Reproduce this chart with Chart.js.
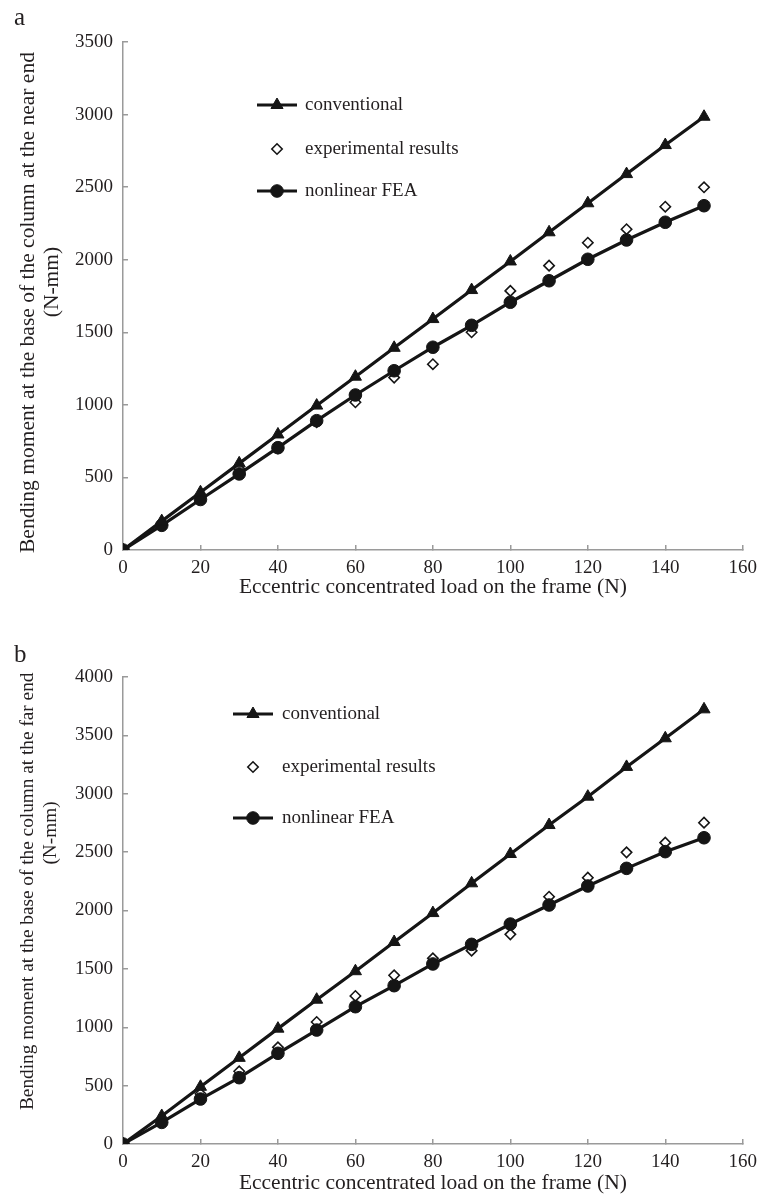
<!DOCTYPE html>
<html><head><meta charset="utf-8">
<script src="https://cdn.jsdelivr.net/npm/chart.js@4/dist/chart.umd.min.js"></script>
<style>
html,body{margin:0;padding:0;background:#fff;}
#wrap{position:relative;width:769px;height:1197px;overflow:hidden;}
.box{position:absolute;left:0;width:769px;}
canvas{display:block;}
</style></head><body>
<div id="wrap">
<div class="box" style="top:0;height:600px"><canvas id="ca" width="769" height="600"></canvas></div>
<div class="box" style="top:600px;height:597px"><canvas id="cb" width="769" height="597"></canvas></div>
</div>
<script>
// ---- data ----
const loads = [0,10,20,30,40,50,60,70,80,90,100,110,120,130,140,150];
const xTicks = [0,20,40,60,80,100,120,140,160];
const yTicksA = [0,500,1000,1500,2000,2500,3000,3500];
const yTicksB = [0,500,1000,1500,2000,2500,3000,3500,4000];

const convA = [0,199,398,597,796,995,1194,1393,1591,1791,1988,2189,2389,2590,2790,2985];
const expA  = [0,180,370,560,700,880,1018,1188,1280,1500,1785,1959,2117,2210,2365,2499];
const feaA  = [0,170,348,524,705,891,1068,1235,1397,1548,1707,1855,2003,2136,2258,2372];

const convB = [0,240,490,738,988,1236,1480,1730,1978,2233,2484,2732,2975,3230,3475,3723];
const expB  = [0,210,430,623,828,1045,1268,1445,1590,1656,1796,2118,2281,2498,2581,2752];
const feaB  = [0,185,385,568,777,976,1176,1356,1542,1710,1884,2047,2210,2361,2504,2623];

const seriesNames = ['conventional','experimental results','nonlinear FEA'];
const xTitle = 'Eccentric concentrated load on the frame (N)';
const yTitleA = ['Bending moment at the base of the column at the near end','(N-mm)'];
const yTitleB = ['Bending moment at the base of the column at the far end','(N-mm)'];

// ---- styling ----
const FONT = '"Liberation Serif", "Times New Roman", serif';
const TXT = '#231f20';
const AX = '#9a9a9a';
const INK = '#151515';

function pts(vals){ return loads.map((x,i)=>({x:x,y:vals[i]})); }

const textPlugin = {
  id:'texts',
  afterDraw(chart){
    const o = chart.options.plugins.texts; if(!o) return;
    const ctx = chart.ctx;
    ctx.save();
    ctx.fillStyle = TXT;
    ctx.font = '25px ' + FONT;
    ctx.textAlign='left'; ctx.textBaseline='alphabetic';
    ctx.fillText(o.panel, o.panelX, o.panelY);
    ctx.font = o.axFont + 'px ' + FONT;
    ctx.textAlign='center'; ctx.textBaseline='middle';
    const ca = chart.chartArea;
    ctx.fillText(o.xTitle, (ca.left+ca.right)/2, o.xTitleY);
    ctx.font = o.yFont + 'px ' + FONT;
    ctx.save();
    ctx.translate(o.y1X, o.y1Bottom); ctx.rotate(-Math.PI/2);
    ctx.textAlign='left'; ctx.textBaseline='middle';
    ctx.fillText(o.yTitle[0], 0, 0);
    ctx.restore();
    ctx.save();
    ctx.translate(o.y2X, o.y2C); ctx.rotate(-Math.PI/2);
    ctx.textAlign='center'; ctx.textBaseline='middle';
    ctx.fillText(o.yTitle[1], 0, 0);
    ctx.restore();
    const ds = chart.data.datasets;
    o.legendOrder.forEach((di,k)=>{
      const d = ds[di];
      const y = o.legY[k];
      const cx = (o.legX1+o.legX2)/2;
      if(d.showLine !== false){
        ctx.beginPath(); ctx.strokeStyle = d.borderColor; ctx.lineWidth = d.borderWidth;
        ctx.moveTo(o.legX1,y); ctx.lineTo(o.legX2,y); ctx.stroke();
      }
      ctx.fillStyle = d.pointBackgroundColor; ctx.strokeStyle = d.pointBorderColor;
      ctx.lineWidth = d.pointBorderWidth;
      Chart.helpers.drawPoint(ctx,{pointStyle:d.pointStyle, rotation:0, radius:d.pointRadius, borderWidth:d.pointBorderWidth}, cx, y);
      ctx.fillStyle = TXT;
      ctx.font = '19px ' + FONT; ctx.textAlign='left'; ctx.textBaseline='middle';
      ctx.fillText(d.label, o.legTextX, y);
    });
    ctx.restore();
  }
};

function makeDatasets(conv, exp, fea){
  return [
    {label:seriesNames[0], data:pts(conv), borderColor:INK, borderWidth:3.2, pointStyle:'triangle',
     pointRadius:7, pointBackgroundColor:INK, pointBorderColor:INK, pointBorderWidth:1, order:1},
    {label:seriesNames[1], data:pts(exp), showLine:false, borderColor:INK, borderWidth:0, pointStyle:'rectRot',
     pointRadius:5.2, pointBackgroundColor:'#fff', pointBorderColor:INK, pointBorderWidth:1.6, order:3},
    {label:seriesNames[2], data:pts(fea), borderColor:INK, borderWidth:3.2, pointStyle:'circle',
     pointRadius:6.3, pointBackgroundColor:INK, pointBorderColor:INK, pointBorderWidth:1, order:2}
  ];
}

function makeChart(id, datasets, yMax, yTicks, texts, padTop, xH){
  return new Chart(document.getElementById(id), {
    type:'line',
    data:{datasets:datasets},
    options:{
      responsive:false, animation:false,
      layout:{padding:{top:padTop, right:18, left:0, bottom:0}},
      plugins:{legend:{display:false}, tooltip:{enabled:false}, texts:texts},
      elements:{line:{tension:0}},
      scales:{
        x:{type:'linear', min:0, max:160,
          afterBuildTicks(s){ s.ticks = xTicks.map(v=>({value:v})); },
          afterFit(s){ s.height = xH; },
          ticks:{font:{family:FONT,size:19}, color:TXT, padding:12, maxRotation:0, callback:v=>String(v)},
          grid:{display:true, drawOnChartArea:false, drawTicks:true, tickLength:-5, color:AX, lineWidth:1.5},
          border:{color:AX, width:1.5}},
        y:{type:'linear', min:0, max:yMax,
          afterBuildTicks(s){ s.ticks = yTicks.map(v=>({value:v})); },
          afterFit(s){ s.width = 123; },
          ticks:{font:{family:FONT,size:19}, color:TXT, padding:15, callback:v=>String(v)},
          grid:{display:true, drawOnChartArea:false, drawTicks:true, tickLength:-5, color:AX, lineWidth:1.5},
          border:{color:AX, width:1.5}}
      }
    },
    plugins:[textPlugin]
  });
}

makeChart('ca', makeDatasets(convA, expA, feaA), 3500, yTicksA, {
  panel:'a', panelX:14, panelY:25, xTitle:xTitle, xTitleY:587, axFont:21.5, yFont:21.5,
  yTitle:yTitleA, y1X:28, y1Bottom:553, y2X:52, y2C:282,
  legendOrder:[0,1,2], legX1:257, legX2:297, legTextX:305, legY:[105,149,191]
}, 42, 50);

makeChart('cb', makeDatasets(convB, expB, feaB), 4000, yTicksB, {
  panel:'b', panelX:14, panelY:62, xTitle:xTitle, xTitleY:583, axFont:21.5, yFont:19.3,
  yTitle:yTitleB, y1X:28, y1Bottom:510, y2X:51, y2C:233,
  legendOrder:[0,1,2], legX1:233, legX2:273, legTextX:282, legY:[114,167,218]
}, 77, 53);
</script>
</body></html>
